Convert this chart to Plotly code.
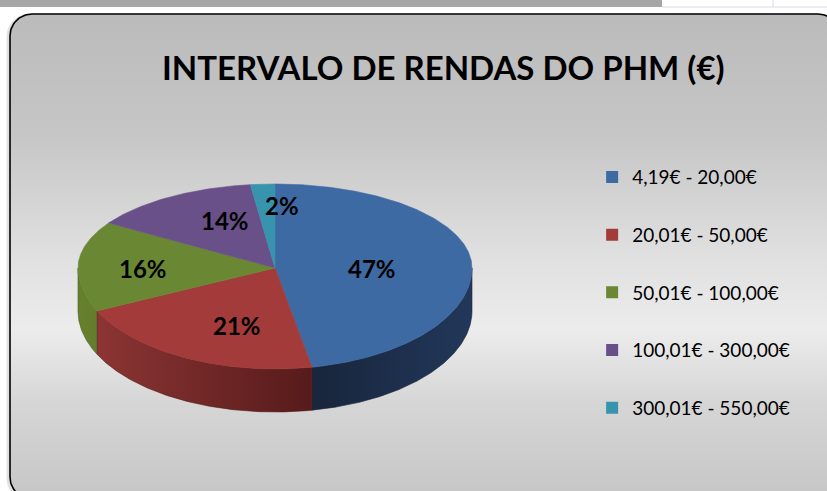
import numpy as np
import plotly.graph_objects as go

# ---------------- data ----------------
title_text = "INTERVALO DE RENDAS DO PHM (€)"
categories = ["4,19€ - 20,00€", "20,01€ - 50,00€", "50,01€ - 100,00€",
              "100,01€ - 300,00€", "300,01€ - 550,00€"]
shares = [47, 21, 16, 14, 2]

# ---------------- style ----------------
top_colors = ["#3e6aa3", "#a23b39", "#6a8834", "#6a5089", "#3893ae"]
side_scales = [
    [[0, "#2a4468"], [0.6, "#18263c"], [1, "#22375a"]],
    [[0, "#903736"], [0.6, "#561a1a"], [1, "#5a1d1d"]],
    [[0, "#66802e"], [0.6, "#475b1f"], [1, "#475b1f"]],
    [[0, "#5a4276"], [1, "#3e2c55"]],
    [[0, "#2d7b92"], [1, "#1f5a6b"]],
]
# label placement (fraction of radius, angular nudge in degrees)
label_r = [0.49, 0.6, 0.67, 0.625, 0.75]
label_dt = [5.4, -8.0, -3.6, 8.4, 6.2]
FONT = "Lato"

W, H = 827, 491
CX, CY = 275, 268
RX, RY_T, RY_B = 197, 84, 101
DEPTH = 43


def pt(theta, dy=0.0, f=1.0):
    t = np.radians(theta)
    c = np.cos(t)
    ry = RY_T if c > 0 else RY_B
    return CX + f * RX * np.sin(t), CY - f * ry * c + dy


def arc(a0, a1, dy=0.0, n=None):
    if n is None:
        n = max(4, int(abs(a1 - a0) * 2))
    th = np.linspace(a0, a1, n)
    pts = [pt(t, dy) for t in th]
    return [p[0] for p in pts], [p[1] for p in pts]


fig = go.Figure()

# ---------- background rounded rectangle with vertical gradient ----------
x0, y0, x1, y1, r = 10, 14, 840, 499, 22
bx, by = [], []
for (cx, cy, a_from, a_to) in [(x0 + r, y0 + r, 180, 270), (x1 - r, y0 + r, 270, 360),
                               (x1 - r, y1 - r, 0, 90), (x0 + r, y1 - r, 90, 180)]:
    for a in np.linspace(a_from, a_to, 20):
        bx.append(cx + r * np.cos(np.radians(a)))
        by.append(cy + r * np.sin(np.radians(a)))
bx.append(bx[0]); by.append(by[0])

# soft shadow
fig.add_trace(go.Scatter(x=[v - 2 for v in bx], y=[v + 1 for v in by], mode="lines",
                         line=dict(color="rgba(0,0,0,0.12)", width=3),
                         hoverinfo="skip", showlegend=False))
fig.add_trace(go.Scatter(
    x=bx, y=by, mode="lines", fill="toself",
    line=dict(color="#000000", width=1.6),
    fillgradient=dict(type="vertical", start=y0, stop=y1,
                      colorscale=[[0, "#bbbbbb"], [0.25, "#c6c6c6"], [0.5, "#e0e0e0"],
                                  [0.65, "#ececec"], [0.8, "#d6d6d6"], [1, "#c6c6c6"]]),
    hoverinfo="skip", showlegend=False))

# ---------- pie geometry ----------
bounds = np.concatenate([[0], np.cumsum(shares)]) / sum(shares) * 360.0

# side walls (front half: 90..270 degrees)
for i in range(len(shares)):
    lo, hi = max(bounds[i], 90), min(bounds[i + 1], 270)
    if hi <= lo:
        continue
    tx, ty = arc(lo, hi)
    bx2, by2 = arc(hi, lo, dy=DEPTH)
    fig.add_trace(go.Scatter(
        x=tx + bx2 + [tx[0]], y=ty + by2 + [ty[0]], mode="lines", fill="toself",
        line=dict(width=0.6, color=side_scales[i][1][1]),
        fillgradient=dict(type="horizontal", start=CX - RX, stop=CX + RX,
                          colorscale=side_scales[i]),
        hoverinfo="skip", showlegend=False))

# top faces
for i in range(len(shares)):
    ax, ay = arc(bounds[i], bounds[i + 1])
    fig.add_trace(go.Scatter(
        x=[CX] + ax + [CX], y=[CY] + ay + [CY], mode="lines", fill="toself",
        fillcolor=top_colors[i], line=dict(width=0.6, color=top_colors[i]),
        name=categories[i], hoverinfo="name", showlegend=False))

# legend entries
for i, c in enumerate(categories):
    fig.add_trace(go.Scatter(x=[None], y=[None], mode="markers", name=c,
                             marker=dict(symbol="square", size=12, color=top_colors[i]),
                             legendgroup=c, showlegend=True))

# data labels
for i, v in enumerate(shares):
    mid = (bounds[i] + bounds[i + 1]) / 2 + label_dt[i]
    lx, ly = pt(mid, f=label_r[i])
    fig.add_annotation(x=lx, y=ly, text=f"<b>{round(v)}%</b>", showarrow=False,
                       font=dict(family=FONT, size=24, color="#000000"))

# title
fig.add_annotation(x=443, y=67, text=f"<b>{title_text}</b>", showarrow=False,
                   font=dict(family=FONT, size=33, color="#000000"))

# top strip (window chrome)
fig.add_shape(type="rect", x0=0, x1=662, y0=0, y1=7, fillcolor="#a6a6a6",
              line=dict(width=0), layer="below")
fig.add_shape(type="line", x0=662, x1=840, y0=7, y1=7,
              line=dict(color="#d5dde8", width=1), layer="below")
fig.add_shape(type="line", x0=773, x1=773, y0=0, y1=7,
              line=dict(color="#d5dde8", width=1), layer="below")

fig.update_layout(
    width=W, height=H,
    margin=dict(l=0, r=0, t=0, b=0),
    paper_bgcolor="#ffffff", plot_bgcolor="#ffffff",
    xaxis=dict(range=[0, W], visible=False, fixedrange=True),
    yaxis=dict(range=[H, 0], visible=False, fixedrange=True),
    showlegend=True,
    legend=dict(x=0.716, y=0.678, xanchor="left", yanchor="top",
                bgcolor="rgba(0,0,0,0)", font=dict(family=FONT, size=19, color="#000000"),
                tracegroupgap=30, itemclick=False, itemdoubleclick=False),
    hovermode="closest",
)

fig.write_html("out.html", config={"displayModeBar": False},
               post_script="document.body.style.margin='0';document.body.style.overflow='hidden';")
